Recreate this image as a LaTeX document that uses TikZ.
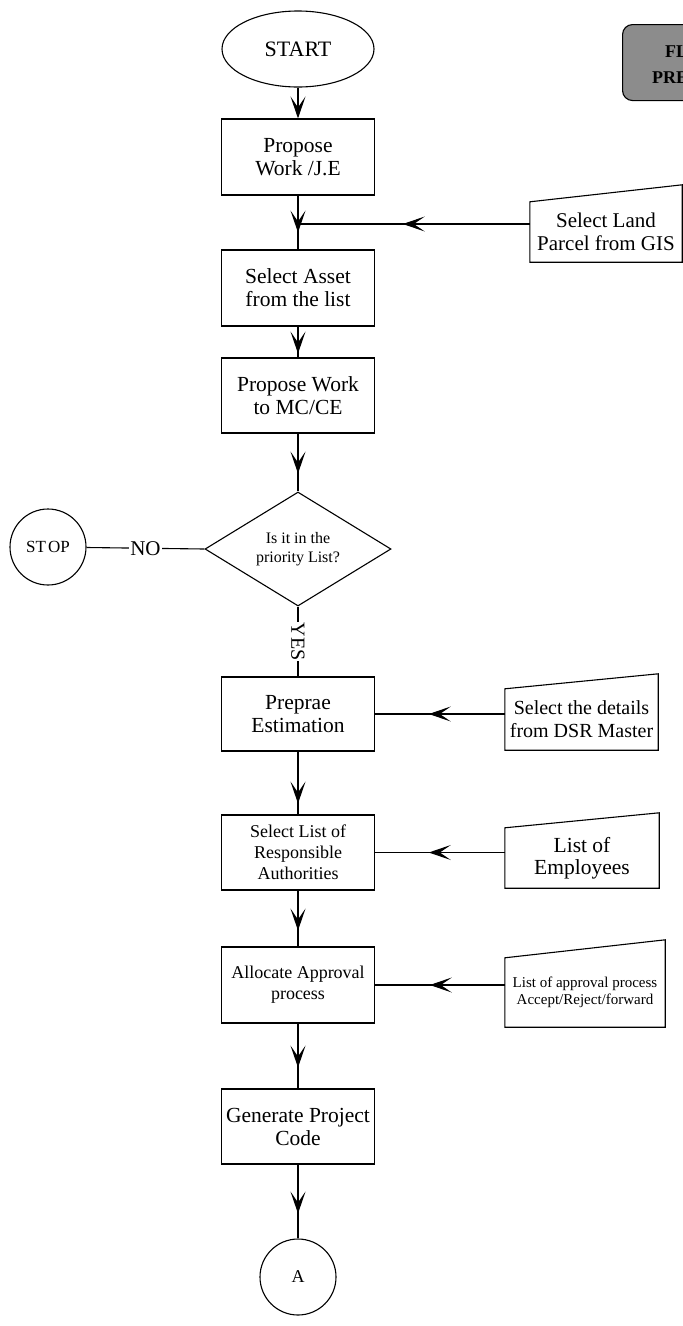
\documentclass[tikz,border=0pt]{standalone}
\usepackage{fontspec}
\setmainfont{Liberation Serif}
\usetikzlibrary{shapes.geometric,arrows.meta,decorations.markings,calc}
\newcommand{\fs}[2]{\fontsize{#1}{#2}\selectfont}
\begin{document}
\begin{tikzpicture}[x=1pt,y=-1pt,
  >={Stealth[length=22pt,width=15pt,inset=11pt]},
  every node/.style={align=center,inner sep=0pt},
  lw/.style={line width=1.1pt},
  procbox/.style={draw,lw,rectangle,minimum width=153pt,minimum height=#1,font=\fs{21.5}{23}},
  inshape/.style={rectangle,minimum width=#1},
  flow/.style={lw},
  midtip/.style={postaction={decorate},
    decoration={markings,mark=at position #1 with {\arrow{>}}}},
  termcircle/.style={draw,lw,circle,minimum size=76pt}
]
\useasboundingbox (0,0) rectangle (683,1326);
\clip (0,0) rectangle (683,1326);

% title box at the top right
\node[draw,lw,fill=black!45,rounded corners=10pt,anchor=north west,
  minimum width=120pt,minimum height=76pt] (title) at (622,24) {};
\node[anchor=base west,font=\fs{18}{20}\bfseries] (titleA) at (665,57) {FLOW};
\node[anchor=base west,font=\fs{18}{20}\bfseries] (titleB) at (652,83) {PRE};

% main column
\node[draw,lw,ellipse,minimum width=152pt,minimum height=76pt,font=\fs{22}{23}] (start) at (298,49) {START};
\node[procbox=76pt] (prop) at (298,157) {Propose\\Work /J.E};
\node[procbox=76pt] (asset) at (298,288) {Select Asset\\from the list};
\node[procbox=75pt] (mc) at (298,395.5) {Propose Work\\to MC/CE};
\node[draw,lw,diamond,aspect=1.63,minimum width=186pt,minimum height=114pt,font=\fs{16}{19}] (dia) at (298,549) {Is it in the\\priority List?};
\node[termcircle,font=\fs{17}{18}] (stop) at (48,547) {ST\kern2pt OP};
\node[procbox=74pt] (prep) at (298,714) {Preprae\\Estimation};
\node[procbox=75pt,font=\fs{18}{21}] (resp) at (298,852.5) {Select List of\\Responsible\\Authorities};
\node[procbox=76pt,font=\fs{18}{21}] (alloc) at (298,985) {Allocate Approval\\process};
\node[procbox=75pt] (gen) at (298,1126.5) {Generate Project\\Code};
\node[termcircle,font=\fs{18}{19}] (conA) at (298,1277) {A};

% manual input shapes on the right
\node[inshape=152pt,minimum height=60pt,font=\fs{21}{23}] (land) at (606,232) {Select Land\\Parcel from GIS};
\draw[lw] (land.south west) -- (land.south east) -- ($(land.north east)+(0,-17)$) -- (land.north west) -- cycle;
\node[inshape=153pt,minimum height=61pt,font=\fs{20}{23}] (dsr) at (581.5,719.5) {Select the details\\from DSR Master};
\draw[lw] (dsr.south west) -- (dsr.south east) -- ($(dsr.north east)+(0,-15)$) -- (dsr.north west) -- cycle;
\node[inshape=154pt,minimum height=60pt,font=\fs{21.5}{22}] (emp) at (582,858) {List of\\Employees};
\draw[lw] (emp.south west) -- (emp.south east) -- ($(emp.north east)+(0,-15)$) -- (emp.north west) -- cycle;
\node[inshape=160pt,minimum height=69pt,font=\fs{15}{17}] (appr) at (585,992.5) {List of approval process\\Accept/Reject/forward};
\draw[lw] (appr.south west) -- (appr.south east) -- ($(appr.north east)+(0,-18)$) -- (appr.north west) -- cycle;

% connectors
\coordinate (join) at (298,224);
\draw[flow,->] (start) -- (prop);
\draw[flow,midtip=37pt] (prop) -- (asset);
\draw[flow,midtip=127pt] (land.west |- join) -- (join);
\draw[flow,midtip=27pt] (asset) -- (mc);
\draw[flow,midtip=40pt] (mc) -- (dia);
\draw[flow] (dia.west) -- node[fill=white,font=\fs{21}{22},inner sep=1pt] {NO} (stop);
\draw[flow] (dia.south) -- node[fill=white,font=\fs{20}{21},rotate=-90,inner sep=1pt] {YES} (prep.north);
\draw[flow,midtip=76pt] (dsr.west |- prep.east) -- (prep.east);
\draw[flow,midtip=52pt] (prep) -- (resp);
\draw[flow,midtip=76pt] (emp.west |- resp.east) -- (resp.east);
\draw[flow,midtip=40pt] (resp) -- (alloc);
\draw[flow,midtip=75pt] (appr.west |- alloc.east) -- (alloc.east);
\draw[flow,midtip=44pt] (alloc) -- (gen);
\draw[flow,midtip=49pt] (gen) -- (conA);
\end{tikzpicture}
\end{document}
